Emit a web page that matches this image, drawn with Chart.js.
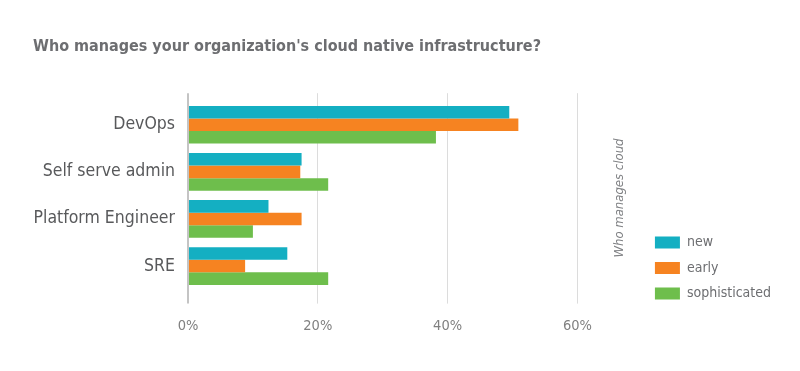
<!DOCTYPE html>
<html>
<head>
<meta charset="utf-8">
<script src="https://cdn.jsdelivr.net/npm/chart.js@4.4.0/dist/chart.umd.min.js"></script>
<style>
  html, body { margin: 0; padding: 0; background: #ffffff; }
  #wrap { width: 800px; height: 371px; }
</style>
</head>
<body>
<div id="wrap"><canvas id="barChart" width="800" height="371"></canvas></div>
<script>
// values (percent of respondents)
const categories = ["DevOps", "Self serve admin", "Platform Engineer", "SRE"];
const seriesNames = ["new", "early", "sophisticated"];
const newValues = [49.5, 17.5, 12.4, 15.3];
const earlyValues = [50.9, 17.3, 17.5, 8.8];
const sophisticatedValues = [38.2, 21.6, 10.0, 21.6];
const tickValues = [0, 20, 40, 60];

const fontFamily = "'DejaVu Sans Condensed', 'Liberation Sans Narrow', sans-serif";

// vertical caption between the plot and the legend
const sideCaption = {
    id: "sideCaption",
    afterLayout(chart) {
        // legend sits higher than the bottom of the canvas
        chart.legend.top -= 37;
        chart.legend.bottom -= 37;
    },
    afterDraw(chart) {
        let ctx = chart.ctx;
        ctx.save();
        ctx.translate(620, 198);
        ctx.rotate(-Math.PI / 2);
        ctx.font = "italic 13px " + fontFamily;
        ctx.fillStyle = "#808285";
        ctx.textAlign = "center";
        ctx.textBaseline = "middle";
        ctx.fillText("Who manages cloud", 0, 0);
        ctx.restore();
    }
};

function gridColor(context) {
    return context.tick && context.tick.value === 0 ? "#c4c4c4" : "#dcdcdc";
}

let ctx = document.getElementById("barChart").getContext("2d");
let barChart = new Chart(ctx, {
    type: "bar",
    data: {
        labels: categories,
        datasets: [
            { label: seriesNames[0], data: newValues, backgroundColor: "#14afc2" },
            { label: seriesNames[1], data: earlyValues, backgroundColor: "#f68321" },
            { label: seriesNames[2], data: sophisticatedValues, backgroundColor: "#6ebe4c" }
        ]
    },
    options: {
        indexAxis: "y",
        responsive: false,
        animation: false,
        categoryPercentage: 0.8,
        barPercentage: 1.0,
        layout: { padding: { left: 33, right: 19, top: 0, bottom: 22 } },
        scales: {
            x: {
                position: "bottom",
                min: 0,
                max: 60,
                afterBuildTicks: (scale) => { scale.ticks = tickValues.map((v) => ({ value: v })); },
                grid: { color: gridColor, lineWidth: (c) => (c.tick && c.tick.value === 0 ? 2 : 1), tickLength: 14 },
                border: { display: false },
                ticks: {
                    padding: 14,
                    color: "#808080",
                    font: { family: fontFamily, size: 14.5 },
                    callback: (v) => v + "%"
                }
            },
            x2: {
                position: "top",
                min: 0,
                max: 60,
                afterBuildTicks: (scale) => { scale.ticks = tickValues.map((v) => ({ value: v })); },
                grid: { color: gridColor, lineWidth: (c) => (c.tick && c.tick.value === 0 ? 2 : 1), tickLength: 8 },
                border: { display: false },
                ticks: { display: false }
            },
            y: {
                position: "left",
                afterFit: (scale) => { scale.width = 155; },
                grid: { display: false, drawTicks: false },
                border: { display: false },
                ticks: {
                    padding: 13,
                    color: "#58595b",
                    font: { family: fontFamily, size: 17.5 }
                }
            },
            y2: {
                position: "right",
                afterFit: (scale) => { scale.width = 66; },
                grid: { display: false, drawTicks: false },
                border: { display: false },
                ticks: { display: false }
            }
        },
        plugins: {
            title: {
                display: true,
                text: "Who manages your organization's cloud native infrastructure?",
                align: "start",
                color: "#6d6e71",
                font: { family: fontFamily, size: 16, weight: "bold" },
                padding: { top: 37, bottom: 37 }
            },
            legend: {
                position: "right",
                align: "end",
                maxWidth: 200,
                labels: {
                    boxWidth: 25,
                    boxHeight: 12,
                    padding: 11.5,
                    color: "#6d6e71",
                    font: { family: fontFamily, size: 14 }
                }
            },
            tooltip: { enabled: false }
        }
    },
    plugins: [sideCaption]
});
</script>
</body>
</html>
